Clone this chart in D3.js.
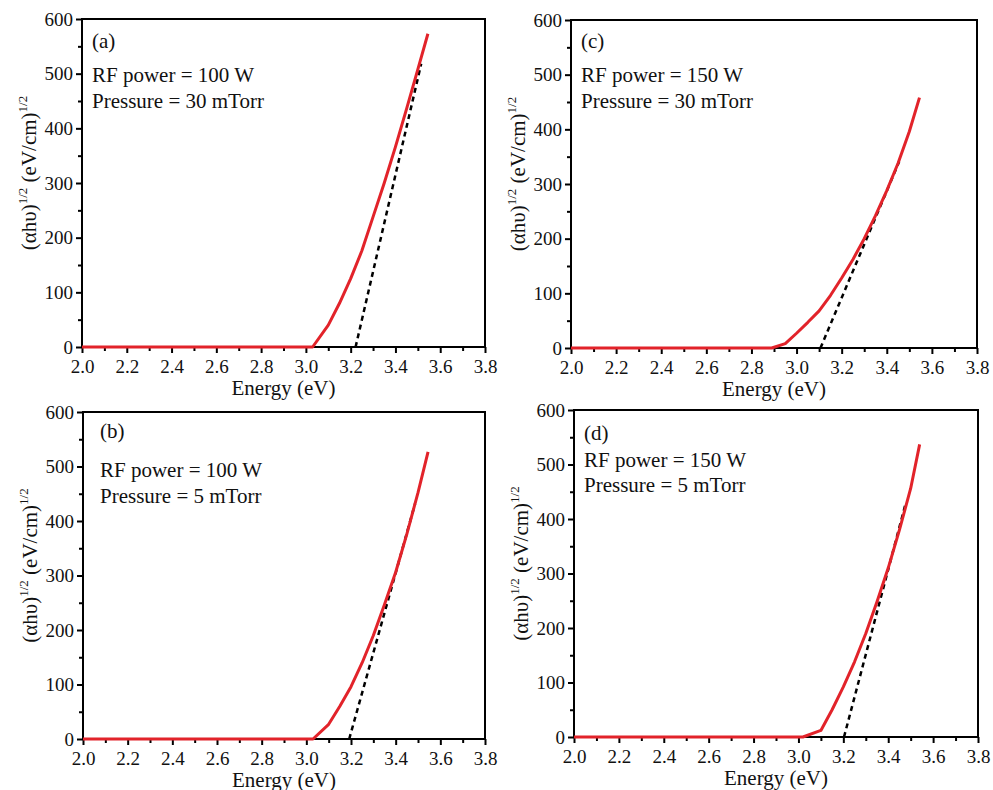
<!DOCTYPE html>
<html>
<head>
<meta charset="utf-8">
<script src="https://cdn.jsdelivr.net/npm/d3@7"></script>
<style>
  body { margin: 0; background: #fff; }
  svg text { font-family: "Liberation Serif", "Times New Roman", serif; fill: #111; }
</style>
</head>
<body>
<script>
// tick values
var xTicks = [2.0, 2.2, 2.4, 2.6, 2.8, 3.0, 3.2, 3.4, 3.6, 3.8];
var xMinor = [2.1, 2.3, 2.5, 2.7, 2.9, 3.1, 3.3, 3.5, 3.7];
var yTicks = [0, 100, 200, 300, 400, 500, 600];
var yMinor = [50, 150, 250, 350, 450, 550];

// panel texts
var panelTags = ["(a)", "(c)", "(b)", "(d)"];
var rfPower = ["RF power = 100 W", "RF power = 150 W", "RF power = 100 W", "RF power = 150 W"];
var pressure = ["Pressure = 30 mTorr", "Pressure = 30 mTorr", "Pressure = 5 mTorr", "Pressure = 5 mTorr"];

// Tauc curves [energy, (ahv)^1/2]
var curveA = [[2.0, 0], [3.03, 0], [3.1, 40], [3.15, 80], [3.2, 125], [3.25, 176], [3.3, 238],
              [3.35, 300], [3.4, 366], [3.45, 436], [3.5, 508], [3.545, 573]];
var curveC = [[2.0, 0], [2.89, 0], [2.95, 8], [3.0, 27], [3.05, 47], [3.1, 68], [3.15, 96],
              [3.2, 128], [3.25, 162], [3.3, 200], [3.35, 242], [3.4, 288], [3.45, 338],
              [3.5, 396], [3.545, 458]];
var curveB = [[2.0, 0], [3.03, 0], [3.1, 27], [3.15, 60], [3.2, 96], [3.25, 140], [3.3, 190],
              [3.35, 247], [3.4, 306], [3.45, 376], [3.5, 452], [3.545, 527]];
var curveD = [[2.0, 0], [3.02, 0], [3.1, 12], [3.15, 50], [3.2, 92], [3.25, 138], [3.3, 190],
              [3.35, 248], [3.4, 310], [3.45, 380], [3.5, 456], [3.54, 537]];

// linear fits (dashed)
var fitA = [[3.222, 0], [3.515, 518]];
var fitC = [[3.106, 0], [3.455, 341]];
var fitB = [[3.192, 0], [3.487, 432]];
var fitD = [[3.203, 0], [3.478, 429]];

var curves = [curveA, curveC, curveB, curveD];
var fits = [fitA, fitC, fitB, fitD];

// plot boxes: left, top, right, bottom
var boxes = [[82, 19, 485, 347], [571, 20, 977, 348], [83, 412, 485, 739], [574, 410, 978, 737]];
// annotation offsets (tag x, tag y, line1 y, line2 y) relative to box
var notes = [[10, 29, 63, 89], [10, 28, 62, 88], [17, 26, 65, 91], [10, 30, 57, 82]];

var svg = d3.select("body").append("svg").attr("width", 993).attr("height", 790);

boxes.forEach(function (b, i) {
  var x = d3.scaleLinear().domain([2.0, 3.8]).range([b[0], b[2]]);
  var y = d3.scaleLinear().domain([0, 600]).range([b[3], b[1]]);
  var g = svg.append("g");

  // minor ticks
  g.append("g").attr("transform", "translate(0," + b[3] + ")")
    .call(d3.axisBottom(x).tickValues(xMinor).tickSize(4).tickFormat(""))
    .call(function (s) { s.select(".domain").remove(); s.selectAll("line").attr("stroke-width", 2); });
  g.append("g").attr("transform", "translate(" + b[0] + ",0)")
    .call(d3.axisLeft(y).tickValues(yMinor).tickSize(4).tickFormat(""))
    .call(function (s) { s.select(".domain").remove(); s.selectAll("line").attr("stroke-width", 2); });

  // major ticks
  var xa = g.append("g").attr("transform", "translate(0," + b[3] + ")")
    .call(d3.axisBottom(x).tickValues(xTicks).tickSize(6).tickPadding(7).tickFormat(d3.format(".1f")));
  var ya = g.append("g").attr("transform", "translate(" + b[0] + ",0)")
    .call(d3.axisLeft(y).tickValues(yTicks).tickSize(6).tickPadding(3));
  [xa, ya].forEach(function (a) {
    a.select(".domain").remove();
    a.selectAll("line").attr("stroke-width", 2);
    a.attr("font-family", "'Liberation Serif', serif");
    a.selectAll("text").style("font-family", "'Liberation Serif', serif").style("font-size", "19px").attr("fill", "#111");
  });

  // frame
  g.append("rect").attr("x", b[0]).attr("y", b[1]).attr("width", b[2] - b[0]).attr("height", b[3] - b[1])
    .attr("fill", "none").attr("stroke", "#000").attr("stroke-width", 2);

  var line = d3.line().x(function (d) { return x(d[0]); }).y(function (d) { return y(d[1]); });

  g.append("path").datum(fits[i]).attr("d", line)
    .attr("fill", "none").attr("stroke", "#000").attr("stroke-width", 2.5).attr("stroke-dasharray", "5,4");
  g.append("path").datum(curves[i]).attr("d", line)
    .attr("fill", "none").attr("stroke", "#e2232a").attr("stroke-width", 3).attr("stroke-linejoin", "round");

  // annotations
  var n = notes[i];
  g.append("text").attr("x", b[0] + n[0]).attr("y", b[1] + n[1]).style("font-size", "21px").text(panelTags[i]);
  g.append("text").attr("x", b[0] + n[0]).attr("y", b[1] + n[2]).style("font-size", "21px").text(rfPower[i]);
  g.append("text").attr("x", b[0] + n[0]).attr("y", b[1] + n[3]).style("font-size", "21px").text(pressure[i]);

  // axis titles
  g.append("text").attr("x", (b[0] + b[2]) / 2).attr("y", b[3] + 48)
    .attr("text-anchor", "middle").style("font-size", "21px").text("Energy (eV)");

  var yt = g.append("text").attr("transform", "translate(" + (b[0] - 46) + "," + ((b[1] + b[3]) / 2 - 10) + ") rotate(-90)")
    .attr("text-anchor", "middle").style("font-size", "21px");
  yt.append("tspan").text("(\u03b1h\u03c5)");
  yt.append("tspan").attr("dy", -9).style("font-size", "13px").text("1/2");
  yt.append("tspan").attr("dy", 9).text(" (eV/cm)");
  yt.append("tspan").attr("dy", -9).style("font-size", "13px").text("1/2");
});
</script>
</body>
</html>
